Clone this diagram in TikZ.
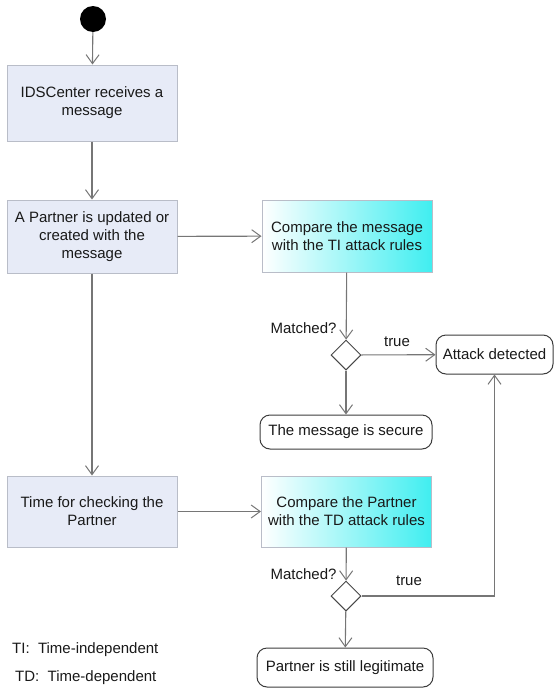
\documentclass[tikz,border=0pt]{standalone}
\usepackage{fontspec}
\setmainfont{Liberation Sans}
\usetikzlibrary{arrows.meta,shapes.geometric}
\definecolor{actfill}{RGB}{231,235,247}
\definecolor{actline}{RGB}{185,189,200}
\definecolor{cyanend}{RGB}{64,238,240}
\definecolor{flowline}{RGB}{118,118,118}
\definecolor{ink}{RGB}{25,25,25}
\tikzset{
  every node/.style={font=\fontsize{15}{18}\selectfont, text=ink},
  action/.style={draw=actline, fill=actfill, line width=1pt, align=center,
    minimum width=170pt, inner sep=2pt},
  check/.style={draw=actline, left color=white, right color=cyanend,
    line width=1pt, align=center, minimum width=170pt, inner sep=2pt},
  final/.style={draw=ink!85, fill=white, rounded corners=10pt, line width=1pt,
    align=center, inner sep=2pt},
  choice/.style={diamond, draw=ink!80, fill=white, line width=1pt,
    minimum width=30pt, minimum height=30pt, inner sep=0pt},
  flow/.style={draw=flowline, line width=1.1pt,
    -{Straight Barb[length=9pt,width=13pt,line width=1pt]}},
  lbl/.style={inner sep=0pt}
}
\begin{document}
\begin{tikzpicture}[x=1pt,y=-1pt]
  \useasboundingbox (0,0) rectangle (554,691);

  % start state
  \node[circle, fill=black, minimum size=26pt, inner sep=0pt] (start) at (93,19) {};

  % left column of actions
  \node[action, minimum height=76pt] (recv) at (92,103) {IDSCenter receives a\\message};
  \node[action, minimum height=73pt] (upd) at (92,236.5) {A Partner is updated or\\created with the\\message};
  \node[action, minimum height=71pt] (time) at (92,511.5) {Time for checking the\\Partner};

  % rule comparisons
  \node[check, minimum height=72pt] (cmpti) at (347,236) {Compare the message\\with the TI attack rules};
  \node[check, minimum height=71pt] (cmptd) at (346.5,511.5) {Compare the Partner\\with the TD attack rules};

  % decisions
  \node[choice] (d1) at (346,355) {};
  \node[choice] (d2) at (346,596) {};

  % end states
  \node[final, minimum width=117pt, minimum height=39pt] (attack) at (494.5,354.5) {Attack detected};
  \node[final, minimum width=172pt, minimum height=34pt] (secure) at (346,432) {The message is secure};
  \node[final, minimum width=176pt, minimum height=39pt] (legit) at (345,667.5) {Partner is still legitimate};

  % guard labels
  \node[lbl] (m1) at (303.5,328) {Matched?};
  \node[lbl] (t1) at (397,342) {true};
  \node[lbl] (m2) at (303.5,574) {Matched?};
  \node[lbl] (t2) at (409,581) {true};

  % legend
  \node[lbl, anchor=west] (legti) at (12,650) {TI:\ \ Time-independent};
  \node[lbl, anchor=west] (legtd) at (15,678) {TD:\ \ Time-dependent};

  % control flow
  \draw[flow] (start) -- (recv);
  \draw[flow] (recv) -- (upd);
  \draw[flow] (upd) -- (time);
  \draw[flow] (upd) -- (cmpti);
  \draw[flow] (time) -- (cmptd);
  \draw[flow] (cmpti) -- (d1);
  \draw[flow] (d1) -- (attack);
  \draw[flow] (d1) -- (secure);
  \draw[flow] (cmptd) -- (d2);
  \draw[flow] (d2) -- (legit);
  \draw[flow] (d2.east) -| (attack.south);
\end{tikzpicture}
\end{document}
